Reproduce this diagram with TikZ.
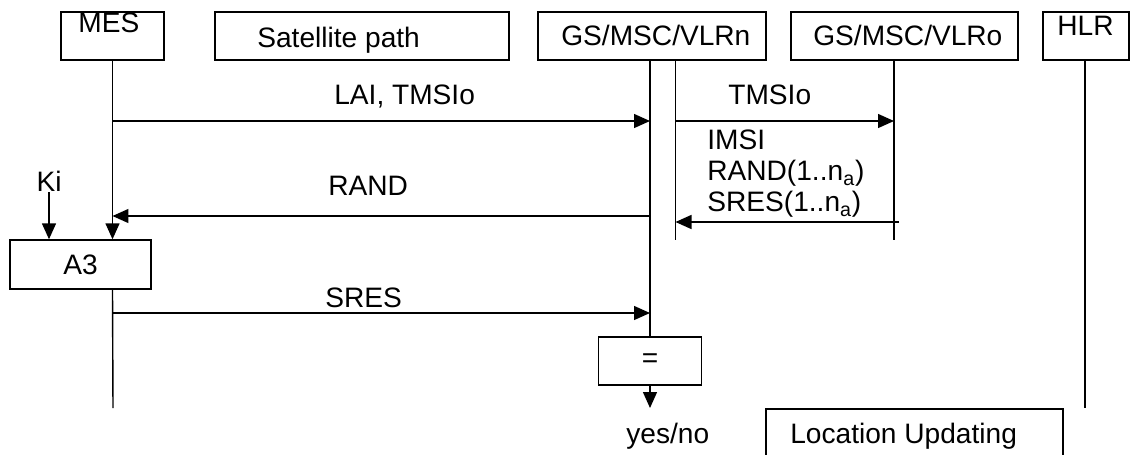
\documentclass[tikz,border=0pt]{standalone}
\usepackage{fontspec}
\setmainfont{Liberation Sans}
\usetikzlibrary{arrows.meta,positioning}

\begin{document}
\begin{tikzpicture}[x=0.02cm, y=-0.02cm,
    box/.style={draw, line width=0.8pt, inner sep=0pt},
    txt/.style={inner sep=0pt, font=\fontsize{16}{17.5}\selectfont},
    life/.style={line width=0.8pt},
    msg/.style={line width=0.8pt, -{Triangle[length=0.32cm, width=0.28cm]}}]
    \useasboundingbox (0,0) rectangle (1130,454);
    \clip (0,0) rectangle (1130,454);

    % entities
    \node[box, minimum width=2.06cm, minimum height=0.96cm] (mes) at (112.5,36) {};
    \node[txt, anchor=base west] (meslbl) at (78,32) {MES};
    \node[box, minimum width=5.88cm, minimum height=0.96cm] (sat) at (362,36) {};
    \node[txt, anchor=base west] (satlbl) at (257,47) {Satellite path};
    \node[box, minimum width=4.56cm, minimum height=0.96cm] (gsn) at (652,36) {};
    \node[txt, anchor=base west] (gsnlbl) at (561,45) {GS/MSC/VLRn};
    \node[box, minimum width=4.54cm, minimum height=0.96cm] (gso) at (904.5,36) {};
    \node[txt, anchor=base west] (gsolbl) at (813,45) {GS/MSC/VLRo};
    \node[box, minimum width=1.72cm, minimum height=0.96cm] (hlr) at (1086,36) {};
    \node[txt, anchor=base west] (hlrlbl) at (1057,35) {HLR};

    % lifeline ends
    \coordinate (nl) at (650,60);
    \coordinate (nr) at (675.5,60);
    \coordinate (nrend) at (675.5,240);
    \coordinate (ol) at (894,60);
    \coordinate (olend) at (894,240);
    \coordinate (hl) at (1085,60);
    \coordinate (hlend) at (1085,408);
    \coordinate (mesend) at (113,408);
    \coordinate (eqout) at (650,408);

    % message levels
    \coordinate (m1) at (0,121);
    \coordinate (m2) at (0,216);
    \coordinate (m3) at (0,222);
    \coordinate (m4) at (0,313);

    % algorithm and comparison
    \node[box, txt, minimum width=2.82cm, minimum height=0.98cm] (a3) at (80.5,264.5) {A3};
    \node[box, txt, minimum width=2.06cm, minimum height=0.96cm] (eq) at (650,361) {=};
    \node[txt, anchor=south] (ki) at (49,192) {Ki};

    % lifelines
    \draw[msg] (mes.south) -- (mes.south |- a3.north);
    \draw[life] (mes.south |- a3.south) -- (mesend);
    \draw[life] (nl) -- (nl |- eq.north);
    \draw[life] (nr) -- (nrend);
    \draw[life] (ol) -- (olend);
    \draw[life] (hl) -- (hlend);
    \draw[msg] (ki.south) -- (ki.south |- a3.north);
    \draw[msg] (eq.south) -- (eqout);

    % messages
    \draw[msg] (mes.south |- m1) -- (nl |- m1);
    \node[txt, anchor=base west] (lai) at (334,104) {LAI, TMSIo};
    \draw[msg] (nr |- m1) -- (ol |- m1);
    \node[txt, anchor=base west] (tmsi) at (728,104) {TMSIo};
    \draw[msg] (nl |- m2) -- (mes.south |- m2);
    \node[txt, anchor=base west] (rand) at (328,195) {RAND};
    \draw[msg] ([xshift=0.1cm]ol |- m3) -- (nr |- m3);
    \node[txt, anchor=north west, align=left] (imsi) at (707,130)
        {IMSI\\RAND(1..n\textsubscript{a})\\SRES(1..n\textsubscript{a})};
    \draw[msg] (mes.south |- m4) -- (nl |- m4);
    \node[txt, anchor=base west] (sres) at (325,307) {SRES};

    % result
    \node[txt, anchor=base west] (yesno) at (626,443) {yes/no};
    \node[box, minimum width=5.94cm, minimum height=1.16cm] (loc) at (914.5,438) {};
    \node[txt, anchor=base west] (loclbl) at (790,443) {Location Updating};
\end{tikzpicture}
\end{document}
